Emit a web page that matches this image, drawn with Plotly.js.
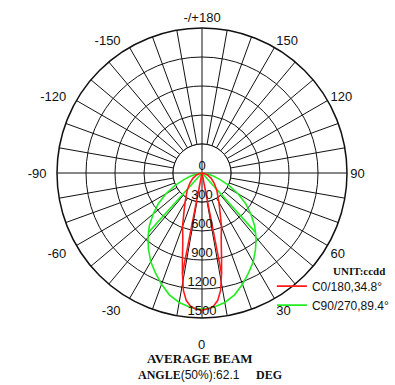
<!DOCTYPE html>
<html>
<head>
<meta charset="utf-8">
<script src="https://cdn.plot.ly/plotly-3.0.1.min.js"></script>
<style>html,body{margin:0;padding:0;background:#fff;}#chart{width:395px;height:385px;}</style>
</head>
<body>
<div id="chart"></div>
<script>
// ---- data ----
const angleTicks = [0,10,20,30,40,50,60,70,80,90,100,110,120,130,140,150,160,170,180,190,200,210,220,230,240,250,260,270,280,290,300,310,320,330,340,350];
const angleLabels = {0:'',30:'30',60:'60',90:'90',120:'120',150:'150',180:'-/+180',210:'-150',240:'-120',270:'-90',300:'-60',330:'-30'};
const radialTicks = [0,300,600,900,1200,1500];
const radialLabels = ['0','300','600','900','1200','1500'];

// C0/180 plane (red)
const redTheta = [-90,-80,-70,-60,-50,-40,-30,-25,-20,-17,-15,-13,-11,-9,-7,-5,-3,0,3,5,7,9,11,13,15,17,20,25,30,40,50,60,70,80,90];
const redR     = [0,25,60,110,165,240,350,440,590,680,770,900,1060,1230,1330,1380,1405,1420,1405,1380,1330,1230,1060,900,770,680,590,440,350,240,165,110,60,25,0];
const redInnerTheta = [-11,-11,11,11];
const redInnerR     = [0,1060,0,1060];

// C90/270 plane (green)
const greenTheta = [-90,-85,-80,-75,-70,-65,-60,-55,-50,-45,-40,-35,-30,-25,-20,-15,-10,-5,0,5,10,15,20,25,30,35,40,45,50,55,60,65,70,75,80,85,90];
const greenR     = [0,20,60,120,200,310,430,550,660,770,870,965,1060,1140,1225,1305,1360,1395,1410,1395,1360,1305,1225,1140,1060,965,870,770,660,550,430,310,200,120,60,20,0];
const greenInnerTheta = [-42,-42,42,42];
const greenInnerR     = [0,830,0,830];

const seriesNames = ['C0/180,34.8\u00b0','C90/270,89.4\u00b0'];
const seriesColors = ['#ff1a1a','#22ee22'];

// ---- build traces ----
function withSegments(mainT, mainR, innerT, innerR){
  const t = mainT.slice(), r = mainR.slice();
  for (let i = 0; i < innerT.length; i += 2){
    t.push(null, innerT[i], innerT[i+1]);
    r.push(null, innerR[i], innerR[i+1]);
  }
  return {t, r};
}
const red = withSegments(redTheta, redR, redInnerTheta, redInnerR);
const green = withSegments(greenTheta, greenR, greenInnerTheta, greenInnerR);

const innerRadius = radialTicks[1];
const diskTheta = angleTicks.concat([angleTicks[0]]);
const diskR = diskTheta.map(() => innerRadius);

// left-side labels get a little extra gap from the circle, as in the reference
function tickText(v){
  const s = angleLabels[v] !== undefined ? angleLabels[v] : '';
  return (s && v > 180) ? s + '\u00a0\u00a0' : s;
}

const traces = [
  { type:'scatterpolar', mode:'lines', theta: diskTheta, r: diskR, fill:'toself',
    fillcolor:'#ffffff', line:{color:'#111', width:1}, showlegend:false, hoverinfo:'skip' },
  { type:'scatterpolar', mode:'lines', theta:[0,180,null,90,270], r:[innerRadius,innerRadius,null,innerRadius,innerRadius],
    line:{color:'#111', width:1}, showlegend:false, hoverinfo:'skip', connectgaps:false },
  { type:'scatterpolar', mode:'lines', name: seriesNames[1], theta: green.t, r: green.r,
    line:{color:seriesColors[1], width:1.6}, connectgaps:false },
  { type:'scatterpolar', mode:'lines', name: seriesNames[0], theta: red.t, r: red.r,
    line:{color:seriesColors[0], width:1.6}, connectgaps:false },
  { type:'scatterpolar', mode:'text', theta: radialTicks.map(() => 0), r: radialTicks, text: radialLabels,
    textposition:'top center', textfont:{family:'Liberation Sans, Arial, sans-serif', size:13, color:'#111'},
    showlegend:false, hoverinfo:'skip' }
];

const layout = {
  width:395, height:385,
  margin:{l:57, r:48, t:28, b:67, autoexpand:false},
  paper_bgcolor:'#fff',
  showlegend:true,
  legend:{x:0.741, y:0.160, xanchor:'left', yanchor:'top', bgcolor:'rgba(0,0,0,0)',
          font:{family:'Liberation Sans, Arial, sans-serif', size:12, color:'#111'},
          traceorder:'reversed', tracegroupgap:0},
  polar:{
    bgcolor:'#fff',
    domain:{x:[0,1], y:[0,1]},
    angularaxis:{
      rotation:-90, direction:'counterclockwise',
      tickmode:'array', tickvals: angleTicks, ticktext: angleTicks.map(tickText),
      ticks:'', showline:true, linecolor:'#111', linewidth:1.5,
      showgrid:true, gridcolor:'#111', gridwidth:1,
      tickfont:{family:'Liberation Sans, Arial, sans-serif', size:13, color:'#111'}
    },
    radialaxis:{
      range:[0,1500], tickmode:'array', tickvals: radialTicks, showticklabels:false,
      ticks:'', showline:false, showgrid:true, gridcolor:'#111', gridwidth:1, angle:-90
    }
  },
  annotations:[
    {xref:'paper', yref:'paper', x:0.4966, y:-0.093, xanchor:'center', yanchor:'middle', showarrow:false,
     text:'0', font:{family:'Liberation Sans, Arial, sans-serif', size:13, color:'#111'}},
    {xref:'paper', yref:'paper', x:0.493, y:-0.138, xanchor:'center', yanchor:'middle', showarrow:false,
     text:'<b>AVERAGE BEAM</b>', font:{family:'Liberation Serif, serif', size:13, color:'#111'}},
    {xref:'paper', yref:'paper', x:0.529, y:-0.197, xanchor:'center', yanchor:'middle', showarrow:false,
     text:'<b>ANGLE</b><span style="font-family:Liberation Sans">(50%):62.1\u00a0\u00a0\u00a0\u00a0\u00a0</span><b>DEG</b>',
     font:{family:'Liberation Serif, serif', size:12, color:'#111'}},
    {xref:'paper', yref:'paper', x:1.043, y:0.162, xanchor:'center', yanchor:'middle', showarrow:false,
     text:'<b>UNIT:ccdd</b>', font:{family:'Liberation Serif, serif', size:11, color:'#111'}}
  ]
};

Plotly.newPlot('chart', traces, layout, {displayModeBar:false, staticPlot:true});
</script>
</body>
</html>
